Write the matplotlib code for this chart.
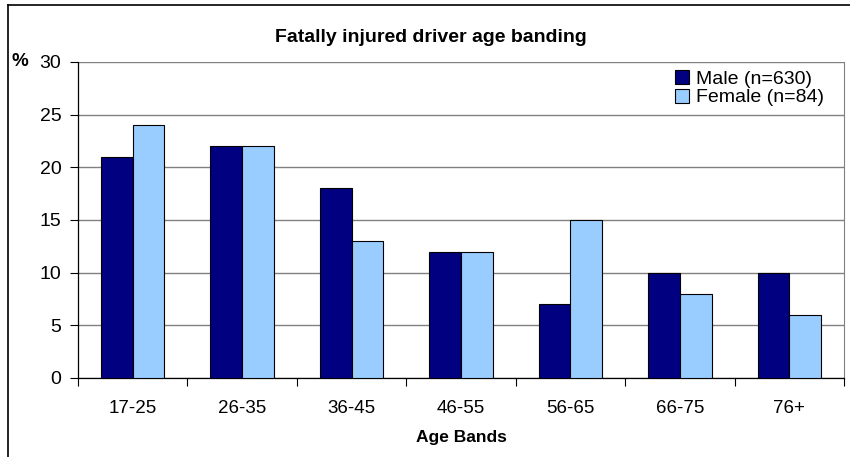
import matplotlib.pyplot as plt
import numpy as np
from matplotlib.lines import Line2D

# age band percentages for fatally injured drivers
bands = ['17-25', '26-35', '36-45', '46-55', '56-65', '66-75', '76+']
male = [21, 22, 18, 12, 7, 10, 10]
female = [24, 22, 13, 12, 15, 8, 6]
yticks = [0, 5, 10, 15, 20, 25, 30]

plt.rcParams['font.family'] = ['Liberation Sans', 'DejaVu Sans']

W, H = 850, 457
fig = plt.figure(figsize=(W / 100, H / 100), dpi=100)
ax = fig.add_axes([78 / W, 1 - 378 / H, (844 - 78) / W, (378 - 62) / H])

x = np.arange(len(bands))
w = 0.29
ax.bar(x - w / 2, male, w, color='#000080', edgecolor='black', linewidth=0.8,
       label='Male (n=630)', zorder=3)
ax.bar(x + w / 2, female, w, color='#99ccff', edgecolor='black', linewidth=0.8,
       label='Female (n=84)', zorder=3)

ax.set_xlim(-0.5, len(bands) - 0.5)
ax.set_ylim(0, 30)
ax.set_yticks(yticks)
ax.tick_params(axis='y', labelsize=14, length=6, width=0.8, pad=6)

# labels centred on groups, tick marks between groups
ax.set_xticks(x)
ax.set_xticklabels(bands, fontsize=13.5)
ax.tick_params(axis='x', which='major', length=0, pad=16)
ax.set_xticks(np.arange(len(bands) + 1) - 0.5, minor=True)
ax.tick_params(axis='x', which='minor', length=6, width=0.8)

ax.yaxis.grid(True, color='#808080', linewidth=1)
ax.set_axisbelow(True)
ax.spines['right'].set_color('#808080')
ax.spines['top'].set_visible(False)
ax.spines['left'].set_linewidth(0.9)
ax.spines['bottom'].set_linewidth(0.9)

ax.set_xlabel('Age Bands', fontsize=12.5, fontweight='bold', labelpad=9)
fig.text(431 / W, 1 - 37 / H, 'Fatally injured driver age banding',
         ha='center', va='center', fontsize=14, fontweight='bold')
fig.text(11 / W, 1 - 61 / H, '%', ha='left', va='center',
         fontsize=13.5, fontweight='bold')

leg = ax.legend(loc='upper left', bbox_to_anchor=(675 / W, 1 - 70 / H),
                bbox_transform=fig.transFigure, frameon=False,
                fontsize=14, handlelength=0.72, handleheight=0.72,
                handletextpad=0.35, labelspacing=0.05, borderpad=0,
                borderaxespad=0)

# frame lines along the top and left edges
fig.add_artist(Line2D([8 / W, 1], [1 - 5 / H, 1 - 5 / H],
                      color='black', linewidth=1.2, transform=fig.transFigure))
fig.add_artist(Line2D([8 / W, 8 / W], [0, 1 - 5 / H],
                      color='black', linewidth=1.2, transform=fig.transFigure))

fig.savefig('out.png', dpi=100)
